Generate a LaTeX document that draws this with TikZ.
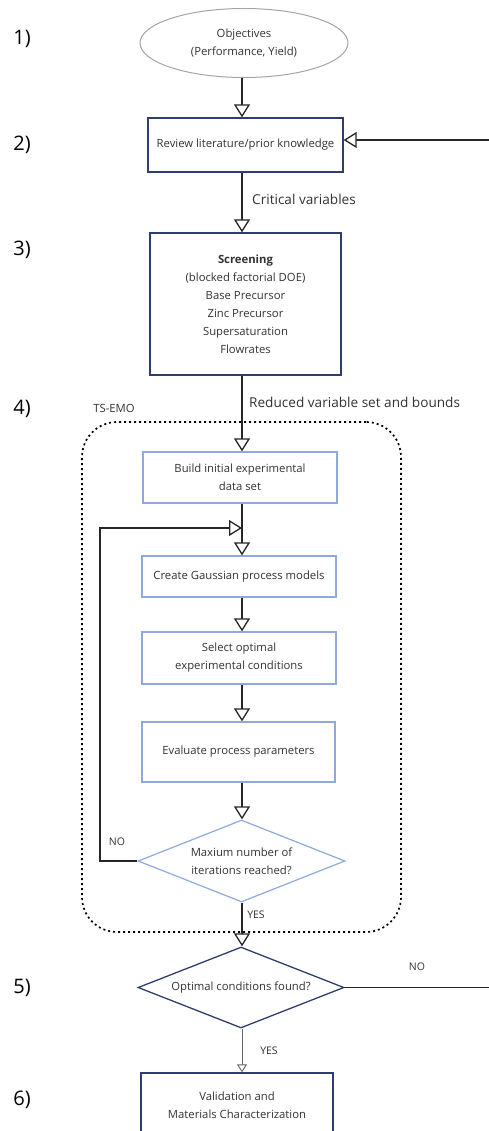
\documentclass[tikz,border=0pt]{standalone}
\usepackage{fontspec}
\setmainfont{Open Sans}
\usepackage{tikz}
\usepackage{xcolor}
\usetikzlibrary{arrows.meta, shapes.geometric, positioning}

\definecolor{navy}{RGB}{47,62,110}
\definecolor{lightblue}{RGB}{142,169,219}
\definecolor{ovalgray}{RGB}{165,165,165}
\definecolor{textgray}{RGB}{50,50,50}

\begin{document}
\begin{tikzpicture}[x=1pt, y=-1pt,
                        every node/.style={text=textgray, inner sep=0pt, align=center, font=\fontsize{11.3}{18}\selectfont},
                        oval/.style={ellipse, draw=ovalgray, line width=1pt},
                        stagebox/.style={draw=navy, line width=1.3pt},
                        loopbox/.style={draw=lightblue, line width=1.3pt},
                        loopdecision/.style={diamond, aspect=2.5, draw=lightblue, line width=1.2pt},
                        stagedecision/.style={diamond, aspect=2.5, draw=navy, line width=1.3pt},
                        lbl/.style={font=\fontsize{13.6}{16}\selectfont, anchor=west},
                        tag/.style={font=\fontsize{10.5}{12}\selectfont},
                        stepnum/.style={font=\fontsize{20}{24}\selectfont, text=black},
                        tsframe/.style={draw=black, line width=1.7pt, dash pattern=on 2pt off 3pt, rounded corners=35pt},
                        flow/.style={draw=black!85, line width=1.3pt, -{Triangle[open, fill=white, width=16pt, length=13pt]}},
                        thinflow/.style={draw=black!60, line width=0.9pt, -{Triangle[open, fill=white, width=10pt, length=8pt]}}]
                        \useasboundingbox (0,0) rectangle (488,1131);

                        \node[tsframe, minimum width=319, minimum height=510] (tsemo) at (241.5,677) {};

                        \node[oval, minimum width=208, minimum height=69] (obj) at (244,43) {Objectives\\(Performance, Yield)};
                        \node[stagebox, minimum width=195, minimum height=54] (review) at (245.5,145) {Review literature/prior knowledge};
                        \node[stagebox, minimum width=191, minimum height=142] (screen) at (245.5,304) {\textbf{Screening}\\(blocked factorial DOE)\\Base Precursor\\Zinc Precursor\\Supersaturation\\Flowrates};
                        \node[loopbox, minimum width=194, minimum height=51] (build) at (240,477.5) {Build initial experimental\\data set};
                        \node[loopbox, minimum width=194, minimum height=41] (gp) at (239,576.5) {Create Gaussian process models};
                        \node[loopbox, minimum width=194, minimum height=52] (select) at (239,658) {Select optimal\\experimental conditions};
                        \node[loopbox, minimum width=193, minimum height=60] (evaluate) at (238.5,752) {Evaluate process parameters};
                        \node[loopdecision, minimum width=207, minimum height=82] (maxit) at (241.5,861) {Maxium number of\\iterations reached?};
                        \node[stagedecision, minimum width=206, minimum height=81] (found) at (241,987.5) {Optimal conditions found?};
                        \node[stagebox, minimum width=192, minimum height=64] (valid) at (237,1105) {Validation and\\Materials Characterization};

                        \node[lbl] (critical) at (252,199) {Critical variables};
                        \node[lbl] (reduced) at (249,402) {Reduced variable set and bounds};
                        \node[font=\fontsize{11.3}{13}\selectfont] (tsname) at (114,408) {TS-EMO};
                        \node[tag] (noloop) at (117,842) {NO};
                        \node[tag] (yesloop) at (256,915) {YES};
                        \node[tag] (noback) at (417,967) {NO};
                        \node[tag] (yesdone) at (269,1051) {YES};

                        \foreach \n/\y in {1/39, 2/145, 3/250, 4/409, 5/988, 6/1100}
                            \node[stepnum] (s\n) at (22,\y) {\n)};

                        \coordinate (spine) at (242,0);
                        \coordinate (backtop) at (496,140);
                        \coordinate (loopleft) at (100,528);

                        \draw
                        (obj.south -| spine) edge[flow] (review.north -| spine)
                        (review.south -| spine) edge[flow] (screen.north -| spine)
                        (screen.south -| spine) edge[flow] (build.north -| spine)
                        (build.south -| spine) edge[flow] (gp.north -| spine)
                        (gp.south -| spine) edge[flow] (select.north -| spine)
                        (select.south -| spine) edge[flow] (evaluate.north -| spine)
                        (evaluate.south -| spine) edge[flow] (maxit.north -| spine)
                        (maxit.south -| spine) edge[flow] (found.north -| spine)
                        (found.south -| spine) edge[thinflow] (valid.north -| spine);

                        \draw[flow] (maxit.west) -- (maxit.west -| loopleft) -- (loopleft) -- (loopleft -| spine);
                        \draw[flow] (found.east) -- (found.east -| backtop) -- (backtop) -- (backtop -| review.east);
                    \end{tikzpicture}
\end{document}
